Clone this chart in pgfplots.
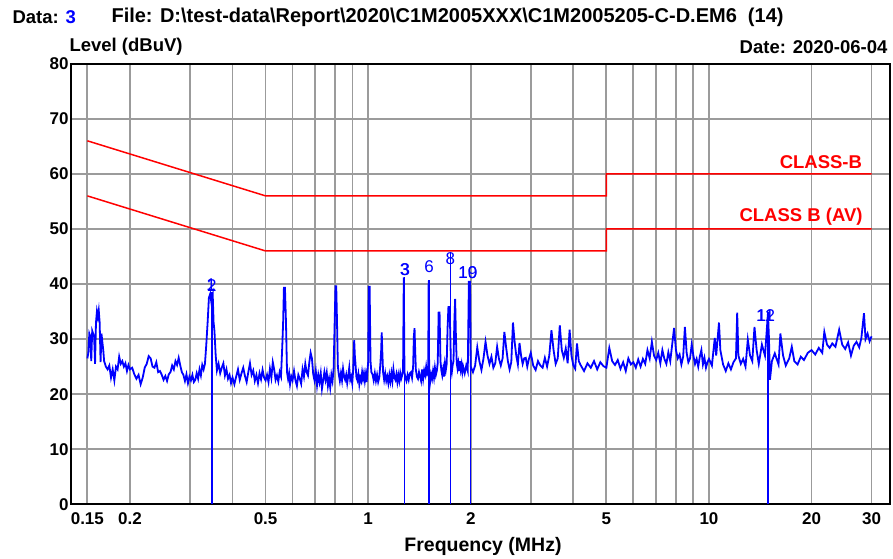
\documentclass[border=0pt]{standalone}
\usepackage{fontspec}
\setmainfont{Liberation Sans}
\usepackage{pgfplots}
\pgfplotsset{compat=1.18}
\definecolor{gridgray}{RGB}{155,155,155}
\definecolor{tracebl}{RGB}{0,0,255}
\definecolor{limred}{RGB}{255,0,0}
\newcommand{\lbl}{\fontsize{18.5}{20}\selectfont\bfseries}
\newcommand{\ttl}{\fontsize{20}{22}\selectfont\bfseries}
\newcommand{\tck}{\fontsize{17}{18}\selectfont\bfseries}
\newcommand{\mk}{\fontsize{17}{18}\selectfont}
\pgfplotstableread{
f y
0.150 26.5
0.151 27.5
0.152 31
0.153 30.5
0.154 26
0.155 31.5
0.156 31
0.157 30.5
0.158 25.5
0.159 33
0.160 35
0.161 34
0.162 35.2
0.163 33
0.164 25.8
0.165 31
0.166 29.5
0.167 28
0.168 26
0.170 25
0.172 24.5
0.174 25.2
0.176 23
0.178 24.5
0.180 22.5
0.182 25
0.184 24.5
0.186 26.8
0.188 25.5
0.190 26
0.192 25
0.194 25.6
0.196 24.2
0.198 25.3
0.200 24.5
0.203 24.8
0.206 23.6
0.209 22.8
0.212 23.5
0.215 21.8
0.218 23
0.221 24.8
0.224 25.5
0.227 26.9
0.230 26.5
0.233 25
0.236 24.8
0.239 25.8
0.242 24
0.245 24.2
0.248 23.5
0.251 22.6
0.254 23.3
0.257 22.4
0.260 23.6
0.263 24
0.266 25.2
0.269 24.5
0.272 26
0.275 25.3
0.278 26.6
0.281 25.2
0.284 24
0.287 23.5
0.290 22.4
0.293 23.6
0.296 22
0.299 23.2
0.302 22.5
0.305 23.5
0.308 22.2
0.311 22.6
0.314 23.8
0.317 22.8
0.320 24.5
0.323 23.4
0.326 25.3
0.329 24.5
0.332 25.5
0.335 29
0.338 33
0.341 37.5
0.344 38.2
0.347 36.5
0.350 37.8
0.352 33
0.354 31.5
0.357 27
0.360 24.3
0.364 25.5
0.368 23.8
0.372 24.8
0.376 25.6
0.380 23.4
0.384 24.5
0.388 22.8
0.392 23.5
0.396 22
0.400 23
0.405 21.8
0.410 23.2
0.415 24.5
0.420 22.6
0.425 23.8
0.430 24.8
0.435 23.3
0.440 22.2
0.445 24
0.450 25.6
0.455 23.5
0.460 24.3
0.465 22.4
0.470 23.5
0.475 22
0.480 23.8
0.485 22.7
0.490 24.4
0.495 23
0.500 22.5
0.505 23.5
0.510 22.2
0.515 24.6
0.520 23
0.525 25.8
0.530 24.5
0.535 22.6
0.540 23.4
0.545 22.3
0.550 24
0.555 23.2
0.560 29
0.563 33
0.566 39.3
0.570 39.3
0.574 33
0.578 24
0.582 22.8
0.586 23.8
0.590 21.8
0.595 23.2
0.600 22.5
0.606 24.2
0.612 22.5
0.618 21.5
0.624 23.5
0.630 22.8
0.636 21.9
0.642 24.5
0.648 23.2
0.654 25.5
0.660 24
0.666 23.4
0.672 25.8
0.678 27.5
0.684 26.5
0.690 23.6
0.696 22.5
0.702 24.2
0.708 21.6
0.714 23.5
0.720 22.2
0.726 23.8
0.732 21
0.738 22.5
0.744 24
0.750 22.6
0.756 23.9
0.762 21.5
0.768 22.8
0.774 21.2
0.780 23.5
0.786 22.4
0.792 24.6
0.798 33.5
0.802 39.6
0.806 39.6
0.810 33.5
0.815 25
0.820 23.6
0.826 22.4
0.832 23.8
0.838 22.5
0.844 24.6
0.850 23.2
0.856 22.6
0.862 23.5
0.868 22
0.874 23.3
0.880 24.8
0.886 22.6
0.892 23.2
0.898 22
0.904 24.5
0.910 29.8
0.914 27
0.918 25.5
0.924 23
0.930 22.5
0.936 23.6
0.942 21.8
0.948 23
0.954 22.4
0.960 24
0.966 22.8
0.972 23.8
0.978 22.4
0.984 23.6
0.990 22.2
0.996 24.5
1.000 25.8
1.004 39.5
1.010 39.5
1.016 26
1.022 24
1.030 23.6
1.038 22.5
1.046 23.8
1.054 22.4
1.062 23.5
1.070 22.2
1.078 23
1.086 25.5
1.092 28
1.096 31.2
1.100 28
1.106 24
1.114 22.6
1.122 23.8
1.130 22.4
1.138 23.2
1.146 22
1.154 23.5
1.162 22.3
1.170 23.8
1.178 22.4
1.186 24.5
1.194 23
1.202 22.6
1.210 23.6
1.218 22.2
1.226 23.5
1.234 22.4
1.242 23.8
1.250 22.8
1.258 23.4
1.266 24.5
1.272 41.2
1.278 24
1.286 23
1.295 22.4
1.305 23.5
1.315 22.6
1.325 23.8
1.335 24
1.345 23
1.355 25
1.362 30.5
1.368 32
1.374 28
1.380 24.5
1.390 23.2
1.400 22.8
1.410 24
1.420 23.2
1.430 22.4
1.440 24.5
1.450 22.8
1.460 24.3
1.470 23.5
1.480 25
1.490 23.6
1.500 24
1.505 40.6
1.510 24.5
1.520 22.2
1.530 23.6
1.540 22.8
1.550 24.2
1.560 23
1.570 24.8
1.580 23.5
1.590 24.2
1.600 25.6
1.610 34.8
1.620 34.8
1.630 26
1.640 24.3
1.650 23.4
1.660 24.6
1.670 23.2
1.680 25.5
1.690 24.4
1.700 25.5
1.710 32
1.720 35.8
1.730 35.8
1.740 32
1.750 25.2
1.760 24
1.770 25.3
1.780 26
1.790 33
1.800 37.3
1.810 30
1.820 25.5
1.830 24.6
1.840 25.6
1.850 24.2
1.860 26
1.870 24.5
1.880 25.4
1.890 24
1.900 25
1.920 23.8
1.940 25.2
1.960 24.2
1.975 40.4
1.990 40.4
2.000 25
2.03 24
2.06 25.2
2.09 28.5
2.12 26
2.15 24.4
2.18 26.5
2.21 29.5
2.24 27
2.27 25.5
2.30 26.8
2.33 24.8
2.36 25.6
2.39 28.6
2.42 26.4
2.45 25.2
2.48 26.5
2.51 31.3
2.54 28.5
2.57 26
2.60 24.5
2.63 25.8
2.66 33
2.69 29.5
2.72 27
2.75 25.4
2.78 29.3
2.81 27
2.84 25.5
2.87 26.5
2.90 26.6
2.93 25
2.96 26.3
3.00 27.5
3.05 25.2
3.10 24.4
3.15 26
3.20 25.2
3.25 24.8
3.30 26.6
3.35 25
3.40 27
3.45 31.6
3.50 28
3.55 25.5
3.60 26.5
3.65 32.5
3.70 28
3.75 26.6
3.80 28.3
3.85 25.6
3.90 31.7
3.95 27
4.00 25.2
4.05 24.6
4.10 29.2
4.15 26
4.20 25.3
4.30 24.2
4.40 25.6
4.50 24.8
4.60 26
4.70 24.5
4.80 25.8
4.90 25.1
5.00 24.8
5.1 28.4
5.2 26
5.3 25.3
5.4 26.2
5.5 24.6
5.6 25.8
5.7 24.2
5.8 26.5
5.9 25.4
6.0 25.8
6.1 24.8
6.2 26.3
6.3 25
6.4 26.4
6.5 25.5
6.6 28
6.7 26.5
6.8 29.5
6.9 27
7.0 26.2
7.1 27.5
7.2 25.6
7.3 28
7.4 26.4
7.5 25.5
7.6 27.6
7.7 26
7.8 29
7.9 32
8.0 28
8.1 26.5
8.2 27.2
8.3 25.4
8.4 26.8
8.5 32.2
8.6 27.5
8.7 25.8
8.8 26.5
8.9 29
9.0 27
9.1 25.5
9.2 26.4
9.3 25
9.4 26.8
9.5 28
9.6 25.4
9.7 26.6
9.8 24.8
9.9 25.8
10.0 26.4
10.2 25.2
10.4 30.2
10.5 27
10.7 33
10.8 28
11.0 25.4
11.2 24.2
11.4 25.6
11.6 24.5
11.8 25.8
12.0 26.5
12.1 34.8
12.2 27
12.4 25.5
12.6 26.4
12.8 25
13.0 29.9
13.2 27
13.4 26
13.6 32.2
13.8 28
14.0 25.5
14.3 29
14.6 27
14.9 34.8
15.0 30
15.1 22.6
15.3 26
15.6 27.4
16.0 25.4
16.2 31
16.5 27
16.8 25.2
17.2 26.5
17.5 28.6
17.8 26
18.2 25.4
18.6 26.8
19.0 26.2
19.5 27.5
20.0 28
20.5 27.2
21.0 28.4
21.5 27.5
21.8 31.3
22.2 29
22.6 28.4
23.0 29.2
23.5 28.6
24.1 31.7
24.6 29
25.1 28.2
25.6 29.4
26.1 27
26.6 28.8
27.1 29.5
27.6 28.5
28.0 30.2
28.5 34.7
28.8 30
29.2 31
29.6 29.6
30.0 30.5
}\trace
\begin{document}
\begin{tikzpicture}
\useasboundingbox (0pt,0pt) rectangle (893pt,558pt);
\begin{axis}[
  at={(71pt,53.7pt)}, anchor=south west,
  scale only axis, width=819pt, height=440.6pt,
  xmode=log, xmin=0.1343, xmax=33.98, ymin=0, ymax=80,
  xtick={0.15,0.2,0.3,0.4,0.5,0.6,0.7,0.8,0.9,1,2,3,4,5,6,7,8,9,10,20,30},
  xticklabels={0.15,0.2,,,0.5,,,,,1,2,,,5,,,,,10,20,30},
  ytick={0,10,20,30,40,50,60,70,80},
  yticklabels={0,10,20,30,40,50,60,70,80},
  minor xtick={},
  major tick length=0pt,
  xmajorgrids, ymajorgrids,
  grid style={gridgray, line width=1.8pt},
  axis line style={black, line width=2pt},
  tick label style={font=\tck},
  xticklabel style={yshift=-5pt},
  yticklabel style={xshift=1pt},
  clip=true,
]
\addplot[limred, line width=1.5pt] coordinates {(0.15,66) (0.5,56) (5,56) (5,60) (30,60)};
\addplot[limred, line width=1.5pt] coordinates {(0.15,56) (0.5,46) (5,46) (5,50) (30,50)};
\addplot[tracebl, line width=1.8pt, line join=miter] table[x=f, y=y] {\trace};
\addplot[tracebl, ycomb, line width=1.3pt, no markers] coordinates {(0.348,38.5) (1.28,41.3) (1.508,40.7) (1.742,45.8) (1.994,40) (14.9,35)};
\node[limred, font=\lbl, anchor=east] at (axis cs:28.8,62.2) {CLASS-B};
\node[limred, font=\lbl, anchor=east] at (axis cs:28.9,52.3) {CLASS B (AV)};
\node[tracebl, font=\mk] at (axis cs:0.346,39.8) {1};
\node[tracebl, font=\mk] at (axis cs:0.348,39.8) {2};
\node[tracebl, font=\mk] at (axis cs:1.28,42.6) {3};
\node[tracebl, font=\mk] at (axis cs:1.285,42.6) {3};
\node[tracebl, font=\mk] at (axis cs:1.51,43.2) {6};
\node[tracebl, font=\mk] at (axis cs:1.742,44.6) {8};
\node[tracebl, font=\mk] at (axis cs:1.96,42) {10};
\node[tracebl, font=\mk] at (axis cs:1.96,42) {19};
\node[tracebl, font=\mk] at (axis cs:14.66,34.3) {11};
\node[tracebl, font=\mk] at (axis cs:14.66,34.3) {12};
\end{axis}
\node[font=\lbl, anchor=west] at (9pt,541pt) {Data: \textcolor{tracebl}{3}};
\node[font=\ttl, anchor=west] at (108pt,541pt) {File: D:\textbackslash test-data\textbackslash Report\textbackslash 2020\textbackslash C1M2005XXX\textbackslash C1M2005205-C-D.EM6\ \ (14)};
\node[font=\lbl, anchor=west] at (66pt,511pt) {Level (dBuV)};
\node[font=\lbl, anchor=east] at (891pt,511pt) {Date: 2020-06-04};
\node[font=\fontsize{19.5}{21}\selectfont\bfseries] at (483pt,12pt) {Frequency (MHz)};
\end{tikzpicture}
\end{document}
